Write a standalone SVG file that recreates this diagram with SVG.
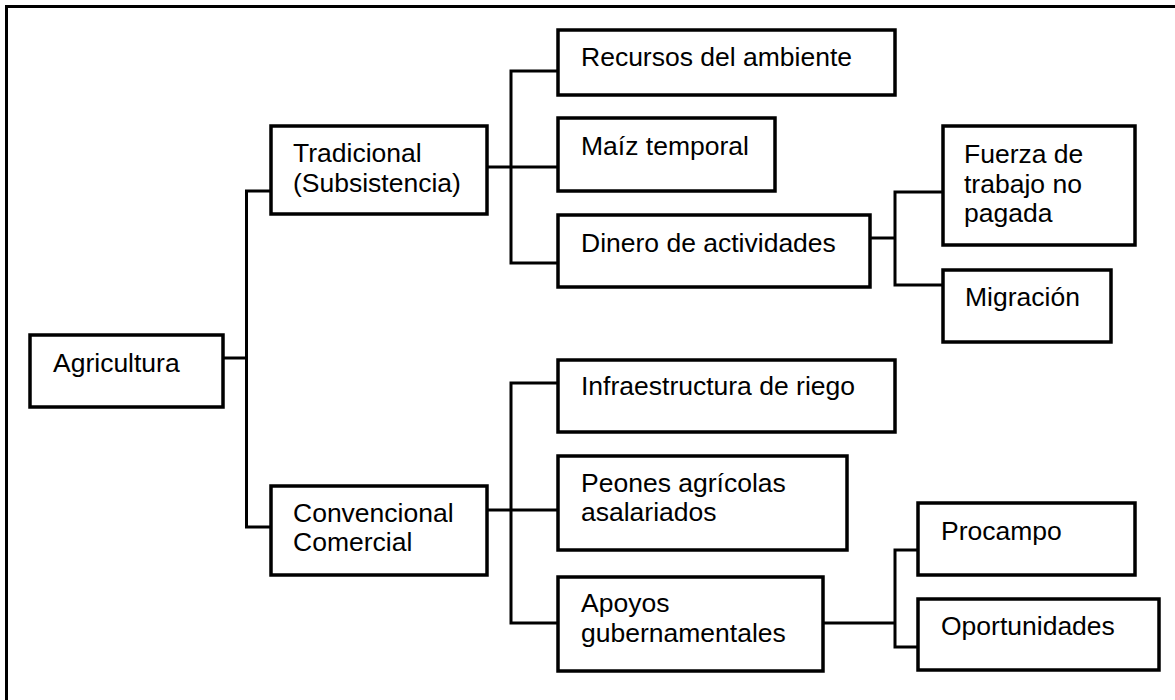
<svg xmlns="http://www.w3.org/2000/svg" width="1175" height="700" viewBox="0 0 1175 700">
<style>
.box{fill:#fff;stroke:#000;stroke-width:3.5}
.lbl{font-family:"Liberation Sans",Arial,sans-serif;font-size:26.5px;fill:#000}
.con{fill:none;stroke:#000;stroke-width:3;stroke-linejoin:miter}
.frame{fill:none;stroke:#000;stroke-width:3}
</style>
<rect width="1175" height="700" fill="#fff"/>
<path class="frame" d="M6.5,702 V6.5 H1177"/>
<g id="connectors">
<path class="con" d="M223,358 H246.5"/>
<path class="con" d="M271,191 H246.5 V527 H271"/>
<path class="con" d="M487,167 H558"/>
<path class="con" d="M558,71 H511 V263 H558"/>
<path class="con" d="M870,238 H895"/>
<path class="con" d="M943,192 H895 V285 H943"/>
<path class="con" d="M487,510 H558"/>
<path class="con" d="M558,383 H511 V623 H558"/>
<path class="con" d="M823,623 H895"/>
<path class="con" d="M918,550 H895 V647 H918"/>
</g>
<g id="agricultura"><rect class="box" x="30" y="335" width="193" height="72"/><text class="lbl" x="53" y="372">Agricultura</text></g>
<g id="tradicional"><rect class="box" x="271" y="126" width="216" height="88"/><text class="lbl" x="293" y="162">Tradicional</text><text class="lbl" x="293" y="192">(Subsistencia)</text></g>
<g id="convencional"><rect class="box" x="271" y="486" width="216" height="89"/><text class="lbl" x="293" y="522">Convencional</text><text class="lbl" x="293" y="551">Comercial</text></g>
<g id="recursos"><rect class="box" x="558" y="30" width="337" height="65"/><text class="lbl" x="581" y="66">Recursos del ambiente</text></g>
<g id="maiz"><rect class="box" x="558" y="118" width="217" height="73"/><text class="lbl" x="581" y="155">Maíz temporal</text></g>
<g id="dinero"><rect class="box" x="558" y="215" width="312" height="72"/><text class="lbl" x="581" y="252">Dinero de actividades</text></g>
<g id="fuerza"><rect class="box" x="943" y="126" width="192" height="119"/><text class="lbl" x="964" y="163">Fuerza de</text><text class="lbl" x="964" y="193">trabajo no</text><text class="lbl" x="964" y="222">pagada</text></g>
<g id="migracion"><rect class="box" x="943" y="270" width="168" height="72"/><text class="lbl" x="965" y="306">Migración</text></g>
<g id="infraestructura"><rect class="box" x="558" y="360" width="337" height="72"/><text class="lbl" x="581" y="395">Infraestructura de riego</text></g>
<g id="peones"><rect class="box" x="558" y="456" width="289" height="94"/><text class="lbl" x="581" y="492">Peones agrícolas</text><text class="lbl" x="581" y="521">asalariados</text></g>
<g id="apoyos"><rect class="box" x="558" y="577" width="265" height="94"/><text class="lbl" x="581" y="612">Apoyos</text><text class="lbl" x="581" y="642">gubernamentales</text></g>
<g id="procampo"><rect class="box" x="918" y="503" width="217" height="72"/><text class="lbl" x="941" y="540">Procampo</text></g>
<g id="oportunidades"><rect class="box" x="918" y="599" width="241" height="71"/><text class="lbl" x="941" y="635">Oportunidades</text></g>
</svg>
